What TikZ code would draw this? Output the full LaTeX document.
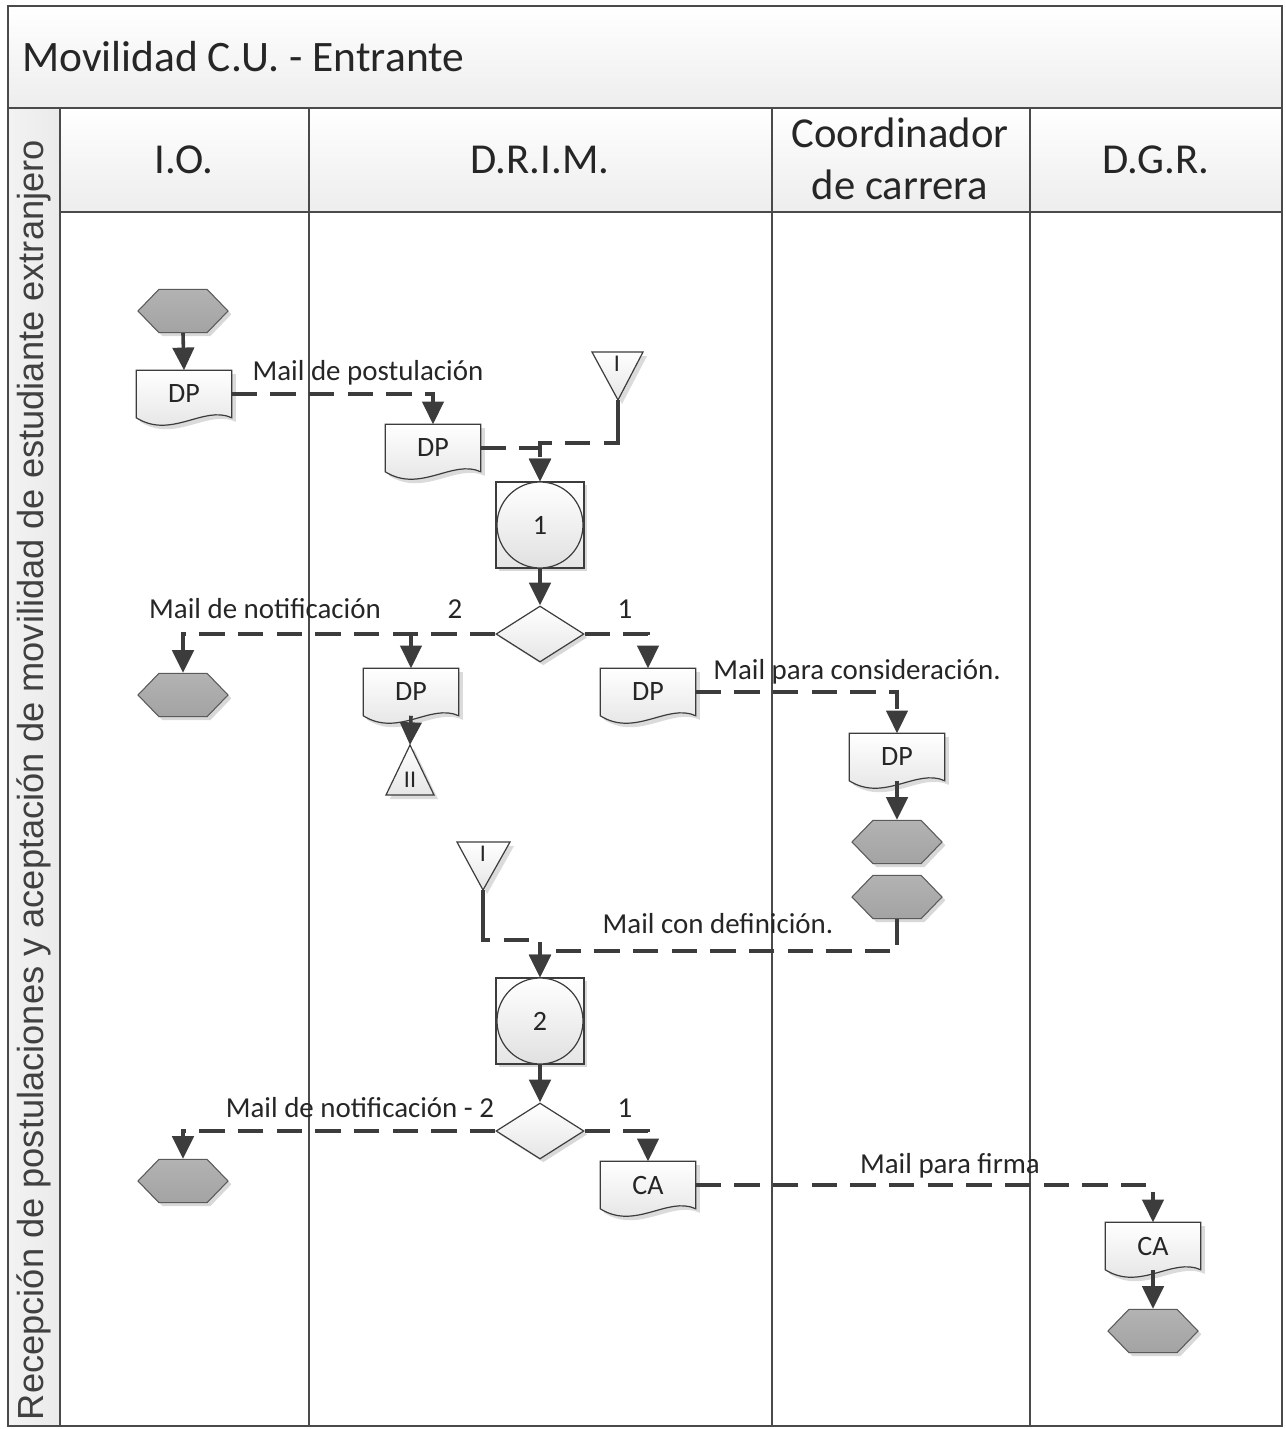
\documentclass[tikz,border=0pt]{standalone}
\usepackage{fontspec}
\setmainfont{Carlito}
\newfontfamily\arialfont{Liberation Sans}
\usetikzlibrary{shapes.geometric,shapes.symbols,arrows.meta,shadows,calc}
\pgfdeclarelayer{bg}
\pgfsetlayers{bg,main}
\definecolor{ln}{HTML}{3C3C3C}
\definecolor{txt}{HTML}{262626}
\definecolor{hexline}{HTML}{5A5A5A}
\definecolor{frameln}{HTML}{4A4A4A}

\newcommand{\docoutline}[1]{%
  \begin{pgfonlayer}{bg}
  \fill[black!14, transform canvas={xshift=3pt,yshift=-3pt}] (#1.north west) -- (#1.north east) -- (#1.south east)
     .. controls ($(#1.south east)+(-28,-13)$) and ($(#1.south west)+(35,22)$) .. (#1.south west) -- cycle;
  \draw[docln] (#1.north west) -- (#1.north east) -- (#1.south east)
     .. controls ($(#1.south east)+(-28,-13)$) and ($(#1.south west)+(35,22)$) .. (#1.south west) -- cycle;
  \end{pgfonlayer}}

\begin{document}
\begin{tikzpicture}[x=0.75pt,y=-0.75pt,
  frame/.style={draw=frameln, line width=1.5pt},
  conn/.style={draw=ln, line width=2.7pt, -{Triangle[length=17pt,width=16pt]}},
  dconn/.style={conn, dash pattern=on 19pt off 10pt},
  plainln/.style={draw=ln, line width=2.7pt},
  shd/.style={drop shadow={shadow xshift=2.5pt, shadow yshift=-2.5pt, fill=black!30, opacity=0.5}},
  hexa/.style={signal, signal to=east and west, signal pointer angle=92, minimum width=67.5pt,
     minimum height=32.5pt, inner sep=0, draw=hexline, line width=0.8pt, top color=black!30, bottom color=black!36, shd},
  docbox/.style={rectangle, minimum width=71.25pt, minimum height=35.25pt, inner sep=0,
     font=\fontsize{21}{24}\selectfont, text=txt},
  docln/.style={draw=ln, line width=0.9pt, top color=white, bottom color=black!12},
  proc/.style={rectangle, draw=ln, line width=0.9pt, minimum width=66pt, minimum height=64.5pt,
     top color=white, bottom color=black!10, shd},
  circ/.style={circle, draw=ln, line width=0.9pt, minimum size=64.5pt, inner sep=0,
     top color=white, bottom color=black!12, font=\fontsize{21}{24}\selectfont, text=txt},
  dia/.style={diamond, draw=ln, line width=0.9pt, minimum width=66pt, minimum height=42pt, inner sep=0,
     top color=white, bottom color=black!10, shd},
  lbl/.style={font=\fontsize{21.7}{26}\selectfont, text=txt, inner sep=0},
  hdr/.style={font=\fontsize{32}{39}\selectfont, text=txt, align=center, inner sep=0},
  tri/.style={draw=ln, line width=0.9pt, top color=white, bottom color=black!10},
  tritext/.style={font=\fontsize{18}{20}\selectfont, text=txt, inner sep=0}
]
\useasboundingbox (0,0) rectangle (1286,1429);

% ---------- frame ----------
\begin{pgfonlayer}{bg}
  \fill[white] (0,0) rectangle (1286,1429);
  \fill[top color=white, bottom color=black!7] (8,6) rectangle (1282,108);
  \fill[top color=white, bottom color=black!7] (60,108) rectangle (1282,212);
  \fill[left color=black!5, right color=black!8] (8,108) rectangle (60,1426);
  \draw[frame] (8,6) rectangle (1282,1426);
  \draw[frame] (8,108) -- (1282,108);
  \draw[frame] (60,212) -- (1282,212);
  \draw[frame] (60,108) -- (60,1426);
  \draw[frame] (309,108) -- (309,1426);
  \draw[frame] (772,108) -- (772,1426);
  \draw[frame] (1030,108) -- (1030,1426);
\end{pgfonlayer}

\node[anchor=west, font=\fontsize{32.6}{39}\selectfont, text=txt, inner sep=0] (title) at (22,57) {Movilidad C.U. - Entrante};
\node[hdr] (hio) at (184,160) {I.O.};
\node[hdr] (hdrim) at (540,160) {D.R.I.M.};
\node[hdr] (hcoord) at (900,159) {Coordinador\\de carrera};
\node[hdr] (hdgr) at (1156,160) {D.G.R.};
\node[rotate=90, font=\arialfont\fontsize{27.2}{32}\selectfont, text=black!75, inner sep=0] (lanelbl) at (34,780)
  {Recepción de postulaciones y aceptación de movilidad de estudiante extranjero};

% ---------- hexagons ----------
\node[hexa] (h1) at (183,311) {};
\node[hexa] (h2) at (183,695) {};
\node[hexa] (h3) at (897,842) {};
\node[hexa] (h4) at (897,897) {};
\node[hexa] (h5) at (183,1181) {};
\node[hexa] (h6) at (1153,1331) {};

% ---------- documents ----------
\node[docbox] (d1) at (184,394) {DP};   \docoutline{d1}
\node[docbox] (d2) at (433,448) {DP};   \docoutline{d2}
\node[docbox] (d3) at (411,692) {DP};   \docoutline{d3}
\node[docbox] (d4) at (648,692) {DP};   \docoutline{d4}
\node[docbox] (d5) at (897,757) {DP};   \docoutline{d5}
\node[docbox] (ca1) at (648,1185) {CA}; \docoutline{ca1}
\node[docbox] (ca2) at (1153,1246) {CA}; \docoutline{ca2}

% ---------- processes ----------
\node[proc] (p1) at (540,525) {};
\node[circ] (p1c) at (p1.center) {1};
\node[proc] (p2) at (540,1021) {};
\node[circ] (p2c) at (p2.center) {2};

% ---------- decisions ----------
\node[dia] (dm1) at (540,634) {};
\node[dia] (dm2) at (540,1131) {};

% ---------- off-page references ----------
\fill[black!14, transform canvas={xshift=3pt,yshift=-3pt}] (592,352) -- (643,352) -- (618,400) -- cycle;
\draw[tri] (592,352) -- (643,352) -- (618,400) -- cycle;
\node[tritext] (t1) at (617,364) {I};
\coordinate (t1tip) at (618,400);

\fill[black!14, transform canvas={xshift=3pt,yshift=-3pt}] (457,842) -- (510,842) -- (483,890) -- cycle;
\draw[tri] (457,842) -- (510,842) -- (483,890) -- cycle;
\node[tritext] (t3) at (483,854) {I};
\coordinate (t3tip) at (483,890);

\fill[black!14, transform canvas={xshift=3pt,yshift=-3pt}] (386,795) -- (434,795) -- (410,745) -- cycle;
\draw[tri] (386,795) -- (434,795) -- (410,745) -- cycle;
\node[tritext] (t2) at (410,780) {II};
\coordinate (t2tip) at (410,745);

% ---------- connectors ----------
\draw[conn] (h1.south) -- (d1.north);
\draw[dconn] (d1.east) -| (d2.north);
\draw[dconn] (d2.east) -| (p1.north);
\draw[plainln] (t1tip) -- ++(0,32) coordinate (t1end);
\draw[dconn] (t1end) -- ++(0,11) -| (p1.north);
\draw[conn] (p1.south) -- (dm1.north);
\draw[dconn] (dm1.west) -| (h2.north);
\draw[dconn] (dm1.west) -| (d3.north);
\draw[dconn] (dm1.east) -| (d4.north);
\draw[conn] (d3.south) -- (t2tip);
\draw[dconn] (d4.east) -| (d5.north);
\draw[conn] (d5.south) -- (h3.north);
\draw[dconn] (h4.south) -- ++(0,32) -| (p2.north);
\draw[plainln] (t3tip) -- ++(0,32) coordinate (t3end);
\draw[dconn] (t3end) -- ++(0,18) -| (p2.north);
\draw[conn] (p2.south) -- (dm2.north);
\draw[dconn] (dm2.west) -| (h5.north);
\draw[dconn] (dm2.east) -| (ca1.north);
\draw[dconn] (ca1.east) -| (ca2.north);
\draw[conn] (ca2.south) -- (h6.north);

% ---------- labels ----------
\node[lbl] (l1) at (368,373) {Mail de postulación};
\node[lbl] (l2) at (455,609) {2};
\node[lbl] (l3) at (265,609) {Mail de notificación};
\node[lbl] (l4) at (625,609) {1};
\node[lbl] (l5) at (857,672) {Mail para consideración.};
\node[lbl] (l6) at (718,924) {Mail con definición.};
\node[lbl] (l7) at (360,1108) {Mail de notificación - 2};
\node[lbl] (l8) at (625,1108) {1};
\node[lbl] (l9) at (950,1166) {Mail para firma};
\end{tikzpicture}
\end{document}
